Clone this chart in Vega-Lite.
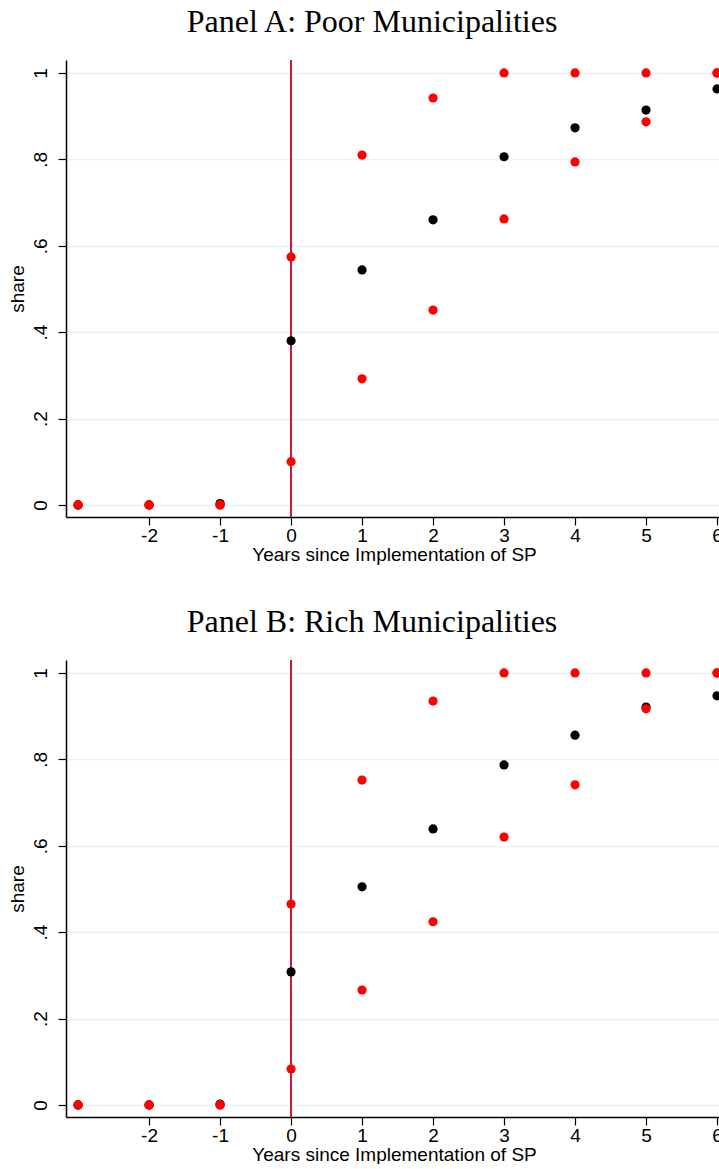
{
  "$schema": "https://vega.github.io/schema/vega-lite/v6.json",
  "background": "white",
  "padding": {"left": 8, "top": 6, "right": -4, "bottom": 0},
  "spacing": 42,
  "config": {
    "view": {"stroke": null},
    "font": "Liberation Sans",
    "title": {"font": "Liberation Serif", "fontSize": 32, "fontWeight": "normal", "color": "black", "anchor": "middle", "dx": -22, "offset": 20},
    "axis": {"labelFont": "Liberation Sans", "titleFont": "Liberation Sans", "labelFontSize": 19, "titleFontSize": 19, "titleFontWeight": "normal", "labelColor": "black", "titleColor": "black", "domainColor": "black", "tickColor": "black", "tickSize": 8, "domainWidth": 1.5, "tickWidth": 1.2}
  },
  "datasets": {
    "pts": [
      {"panel": "A", "year": -3, "series": "mean", "share": 0},
      {"panel": "A", "year": -2, "series": "mean", "share": 0},
      {"panel": "A", "year": -1, "series": "mean", "share": 0.003},
      {"panel": "A", "year": 0, "series": "mean", "share": 0.38},
      {"panel": "A", "year": 1, "series": "mean", "share": 0.544},
      {"panel": "A", "year": 2, "series": "mean", "share": 0.66},
      {"panel": "A", "year": 3, "series": "mean", "share": 0.806},
      {"panel": "A", "year": 4, "series": "mean", "share": 0.873},
      {"panel": "A", "year": 5, "series": "mean", "share": 0.914},
      {"panel": "A", "year": 6, "series": "mean", "share": 0.963},
      {"panel": "A", "year": -3, "series": "upper", "share": 0},
      {"panel": "A", "year": -2, "series": "upper", "share": 0},
      {"panel": "A", "year": -1, "series": "upper", "share": 0},
      {"panel": "A", "year": 0, "series": "upper", "share": 0.574},
      {"panel": "A", "year": 1, "series": "upper", "share": 0.81},
      {"panel": "A", "year": 2, "series": "upper", "share": 0.942},
      {"panel": "A", "year": 3, "series": "upper", "share": 1},
      {"panel": "A", "year": 4, "series": "upper", "share": 1},
      {"panel": "A", "year": 5, "series": "upper", "share": 1},
      {"panel": "A", "year": 6, "series": "upper", "share": 1},
      {"panel": "A", "year": -3, "series": "lower", "share": 0},
      {"panel": "A", "year": -2, "series": "lower", "share": 0},
      {"panel": "A", "year": -1, "series": "lower", "share": 0},
      {"panel": "A", "year": 0, "series": "lower", "share": 0.1},
      {"panel": "A", "year": 1, "series": "lower", "share": 0.292},
      {"panel": "A", "year": 2, "series": "lower", "share": 0.451},
      {"panel": "A", "year": 3, "series": "lower", "share": 0.662},
      {"panel": "A", "year": 4, "series": "lower", "share": 0.794},
      {"panel": "A", "year": 5, "series": "lower", "share": 0.887},
      {"panel": "A", "year": 6, "series": "lower", "share": 1},
      {"panel": "B", "year": -3, "series": "mean", "share": 0},
      {"panel": "B", "year": -2, "series": "mean", "share": 0},
      {"panel": "B", "year": -1, "series": "mean", "share": 0.002},
      {"panel": "B", "year": 0, "series": "mean", "share": 0.308},
      {"panel": "B", "year": 1, "series": "mean", "share": 0.505},
      {"panel": "B", "year": 2, "series": "mean", "share": 0.639},
      {"panel": "B", "year": 3, "series": "mean", "share": 0.787},
      {"panel": "B", "year": 4, "series": "mean", "share": 0.856},
      {"panel": "B", "year": 5, "series": "mean", "share": 0.921},
      {"panel": "B", "year": 6, "series": "mean", "share": 0.947},
      {"panel": "B", "year": -3, "series": "upper", "share": 0},
      {"panel": "B", "year": -2, "series": "upper", "share": 0},
      {"panel": "B", "year": -1, "series": "upper", "share": 0},
      {"panel": "B", "year": 0, "series": "upper", "share": 0.465},
      {"panel": "B", "year": 1, "series": "upper", "share": 0.752},
      {"panel": "B", "year": 2, "series": "upper", "share": 0.935},
      {"panel": "B", "year": 3, "series": "upper", "share": 1},
      {"panel": "B", "year": 4, "series": "upper", "share": 1},
      {"panel": "B", "year": 5, "series": "upper", "share": 1},
      {"panel": "B", "year": 6, "series": "upper", "share": 1},
      {"panel": "B", "year": -3, "series": "lower", "share": 0},
      {"panel": "B", "year": -2, "series": "lower", "share": 0},
      {"panel": "B", "year": -1, "series": "lower", "share": 0},
      {"panel": "B", "year": 0, "series": "lower", "share": 0.083},
      {"panel": "B", "year": 1, "series": "lower", "share": 0.266},
      {"panel": "B", "year": 2, "series": "lower", "share": 0.424},
      {"panel": "B", "year": 3, "series": "lower", "share": 0.62},
      {"panel": "B", "year": 4, "series": "lower", "share": 0.741},
      {"panel": "B", "year": 5, "series": "lower", "share": 0.917},
      {"panel": "B", "year": 6, "series": "lower", "share": 1}
    ]
  },
  "vconcat": [
    {
      "title": "Panel A: Poor Municipalities",
      "width": 656,
      "height": 457,
      "data": {"name": "pts"},
      "transform": [{"filter": "datum.panel === 'A'"}],
      "encoding": {
        "x": {"field": "year", "type": "quantitative", "scale": {"domain": [-3.17, 6.07], "nice": false, "zero": false},
              "axis": {"values": [-2, -1, 0, 1, 2, 3, 4, 5, 6], "title": "Years since Implementation of SP", "grid": false, "labelPadding": 1, "titlePadding": 0, "labelFlush": false, "labelExpr": "replace(datum.label, '\u2212', '-')"}},
        "y": {"field": "share", "type": "quantitative", "scale": {"domain": [-0.028, 1.03], "nice": false, "zero": false},
              "axis": {"values": [0, 0.2, 0.4, 0.6, 0.8, 1], "format": "~g", "title": "share", "grid": true, "gridColor": "#eaf2f3", "gridWidth": 1.5, "labelAngle": -90, "labelAlign": "center", "labelBaseline": "bottom", "labelPadding": 8, "titlePadding": 4, "labelFlush": false,
                       "labelExpr": "replace(datum.label, '0.', '.')"}}
      },
      "layer": [
        {"mark": {"type": "rule", "color": "#c41e3a", "strokeWidth": 1.5}, "encoding": {"x": {"datum": 0}, "y": null}},
        {"transform": [{"filter": "datum.series === 'mean'"}], "mark": {"type": "point", "filled": true, "shape": "circle", "size": 85, "color": "black", "opacity": 1, "clip": true}},
        {"transform": [{"filter": "datum.series !== 'mean'"}], "mark": {"type": "point", "filled": true, "shape": "circle", "size": 85, "color": "#ff0000", "opacity": 1, "clip": true}}
      ]
    },
    {
      "title": "Panel B: Rich Municipalities",
      "width": 656,
      "height": 457,
      "data": {"name": "pts"},
      "transform": [{"filter": "datum.panel === 'B'"}],
      "encoding": {
        "x": {"field": "year", "type": "quantitative", "scale": {"domain": [-3.17, 6.07], "nice": false, "zero": false},
              "axis": {"values": [-2, -1, 0, 1, 2, 3, 4, 5, 6], "title": "Years since Implementation of SP", "grid": false, "labelPadding": 1, "titlePadding": 0, "labelFlush": false, "labelExpr": "replace(datum.label, '\u2212', '-')"}},
        "y": {"field": "share", "type": "quantitative", "scale": {"domain": [-0.028, 1.03], "nice": false, "zero": false},
              "axis": {"values": [0, 0.2, 0.4, 0.6, 0.8, 1], "format": "~g", "title": "share", "grid": true, "gridColor": "#eaf2f3", "gridWidth": 1.5, "labelAngle": -90, "labelAlign": "center", "labelBaseline": "bottom", "labelPadding": 8, "titlePadding": 4, "labelFlush": false,
                       "labelExpr": "replace(datum.label, '0.', '.')"}}
      },
      "layer": [
        {"mark": {"type": "rule", "color": "#c41e3a", "strokeWidth": 1.5}, "encoding": {"x": {"datum": 0}, "y": null}},
        {"transform": [{"filter": "datum.series === 'mean'"}], "mark": {"type": "point", "filled": true, "shape": "circle", "size": 85, "color": "black", "opacity": 1, "clip": true}},
        {"transform": [{"filter": "datum.series !== 'mean'"}], "mark": {"type": "point", "filled": true, "shape": "circle", "size": 85, "color": "#ff0000", "opacity": 1, "clip": true}}
      ]
    }
  ]
}
